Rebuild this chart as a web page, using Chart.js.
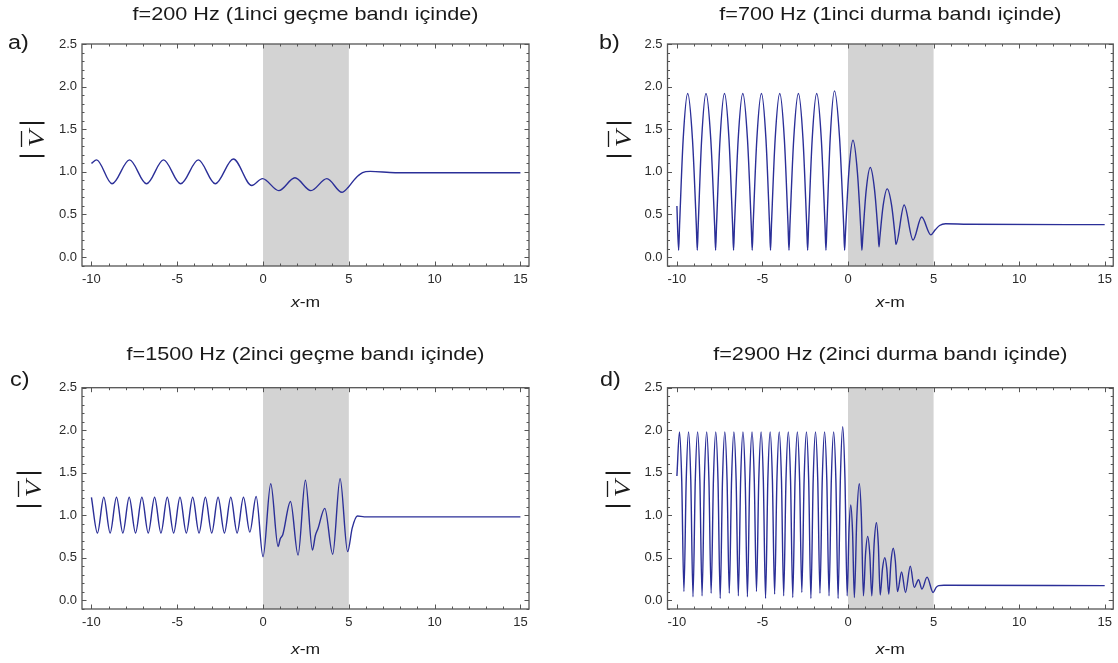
<!DOCTYPE html>
<html lang="tr">
  <head>
    <meta charset="UTF-8">
    <title>|V| dağılımı</title>
    <script src="https://cdn.jsdelivr.net/npm/chart.js"></script>
    <style>
      body {
        margin: 0;
        background: #fff;
        width: 1118px;
        height: 663px;
        position: relative;
        overflow: hidden
      }

      canvas {
        position: absolute
      }
    </style>
  </head>
  <body>
    <canvas id="ca" width="559" height="331" style="left:0;top:0"></canvas>
    <canvas id="cb" width="559" height="331" style="left:559px;top:0"></canvas>
    <canvas id="cc" width="559" height="332" style="left:0;top:331px"></canvas>
    <canvas id="cd" width="559" height="332" style="left:559px;top:331px"></canvas>
    <script>
      const xTicks = [-10, -5, 0, 5, 10, 15];
      const yTicks = [0, 0.5, 1, 1.5, 2, 2.5];
      const band = [0, 5];

      const titles = [
        'f=200 Hz (1inci geçme bandı içinde)',
        'f=700 Hz (1inci durma bandı içinde)',
        'f=1500 Hz (2inci geçme bandı içinde)',
        'f=2900 Hz (2inci durma bandı içinde)'
      ];
      const panelLabels = ['a)', 'b)', 'c)', 'd)'];

      // [x, |V|]
      const curveA = [[-10, 1.10], [-9.7, 1.14], [-8.8, 0.86], [-7.78, 1.14], [-6.79, 0.86], [-5.8, 1.14], [-4.8, 0.86],
        [-3.77, 1.14], [-2.78, 0.86], [-1.73, 1.15], [-0.66, 0.84], [-0.03, 0.92], [0.92, 0.78], [1.86, 0.93],
        [2.79, 0.78], [3.72, 0.92], [4.6, 0.76], [4.97, 0.82], [5.37, 0.92], [5.8, 0.99], [6.25, 1.005], [7.7, 0.99], [15, 0.99]];

      const curveB = [[-10, 0.60], [-9.90, 0.08],
        [-9.845, 0.37], [-9.635, 1.38], [-9.37, 1.92], [-9.09, 1.38], [-8.865, 0.37], [-8.81, 0.08],
        [-8.755, 0.37], [-8.555, 1.38], [-8.30, 1.92], [-8.02, 1.38], [-7.795, 0.37], [-7.74, 0.08],
        [-7.685, 0.37], [-7.48, 1.38], [-7.22, 1.92], [-6.955, 1.38], [-6.745, 0.37], [-6.69, 0.08],
        [-6.635, 0.37], [-6.42, 1.38], [-6.15, 1.92], [-5.875, 1.38], [-5.655, 0.37], [-5.60, 0.08],
        [-5.545, 0.37], [-5.33, 1.38], [-5.06, 1.92], [-4.795, 1.38], [-4.585, 0.37], [-4.53, 0.08],
        [-4.475, 0.37], [-4.26, 1.38], [-3.99, 1.92], [-3.72, 1.38], [-3.505, 0.37], [-3.45, 0.08],
        [-3.395, 0.37], [-3.175, 1.38], [-2.90, 1.92], [-2.63, 1.38], [-2.415, 0.37], [-2.36, 0.08],
        [-2.305, 0.37], [-2.095, 1.38], [-1.83, 1.92], [-1.56, 1.38], [-1.345, 0.37], [-1.29, 0.08],
        [-1.235, 0.37], [-1.04, 1.40], [-0.79, 1.95], [-0.495, 1.40], [-0.255, 0.37], [-0.20, 0.08],
        [-0.15, 0.28], [0.045, 0.99], [0.29, 1.37], [0.55, 0.99], [0.76, 0.28], [0.81, 0.08],
        [0.86, 0.23], [1.055, 0.77], [1.30, 1.05], [1.555, 0.78], [1.76, 0.27], [1.81, 0.12],
        [1.86, 0.23], [2.05, 0.60], [2.29, 0.80], [2.545, 0.61], [2.75, 0.25], [2.80, 0.15],
        [3.28, 0.61], [3.80, 0.20], [4.30, 0.47], [4.84, 0.26],
        [5.1, 0.32], [5.35, 0.37], [5.7, 0.39], [7, 0.385], [15, 0.38]];

      const curveC = [[-10, 1.21], [-9.65, 0.79], [-9.28, 1.21], [-8.91, 0.79], [-8.54, 1.21], [-8.17, 0.79],
        [-7.80, 1.21], [-7.43, 0.79], [-7.06, 1.21], [-6.69, 0.79], [-6.32, 1.21], [-5.95, 0.79], [-5.58, 1.21],
        [-5.21, 0.79], [-4.84, 1.21], [-4.47, 0.79], [-4.10, 1.21], [-3.73, 0.79], [-3.36, 1.21], [-2.99, 0.79],
        [-2.62, 1.21], [-2.25, 0.79], [-1.88, 1.21], [-1.51, 0.79], [-1.14, 1.21], [-0.77, 0.80], [-0.40, 1.22],
        [0.0, 0.51], [0.45, 1.37], [0.88, 0.63], [1.0, 0.72], [1.15, 0.77], [1.6, 1.16], [2.04, 0.53], [2.47, 1.41],
        [2.88, 0.59], [3.05, 0.76], [3.2, 0.84], [3.6, 1.08], [4.06, 0.54], [4.49, 1.43], [4.93, 0.57],
        [5.2, 0.85], [5.5, 0.99], [5.9, 0.98], [15, 0.98]];

      const curveD = [[-10, 1.46], [-9.85, 1.98], [-9.72, 1.42], [-9.59, 0.10], [-9.455, 1.42],
        [-9.32, 1.98], [-9.19, 1.42], [-9.06, 0.04], [-8.925, 1.42],
        [-8.79, 1.98], [-8.66, 1.42], [-8.53, 0.05], [-8.395, 1.42],
        [-8.26, 1.98], [-8.13, 1.42], [-8.00, 0.08], [-7.865, 1.42],
        [-7.73, 1.98], [-7.60, 1.42], [-7.47, 0.02], [-7.335, 1.42],
        [-7.20, 1.98], [-7.07, 1.42], [-6.94, 0.08], [-6.805, 1.42],
        [-6.67, 1.98], [-6.54, 1.42], [-6.41, 0.05], [-6.275, 1.42],
        [-6.14, 1.98], [-6.01, 1.42], [-5.88, 0.04], [-5.745, 1.42],
        [-5.61, 1.98], [-5.48, 1.42], [-5.35, 0.10], [-5.215, 1.42],
        [-5.08, 1.98], [-4.95, 1.42], [-4.82, 0.02], [-4.685, 1.42],
        [-4.55, 1.98], [-4.42, 1.42], [-4.29, 0.07], [-4.155, 1.42],
        [-4.02, 1.98], [-3.89, 1.42], [-3.76, 0.05], [-3.625, 1.42],
        [-3.49, 1.98], [-3.36, 1.42], [-3.23, 0.03], [-3.095, 1.42],
        [-2.96, 1.98], [-2.83, 1.42], [-2.70, 0.09], [-2.565, 1.42],
        [-2.43, 1.98], [-2.30, 1.42], [-2.17, 0.02], [-2.035, 1.42],
        [-1.90, 1.98], [-1.77, 1.42], [-1.64, 0.08], [-1.505, 1.42],
        [-1.37, 1.98], [-1.24, 1.42], [-1.11, 0.05], [-0.975, 1.42],
        [-0.84, 1.98], [-0.71, 1.42], [-0.58, 0.02], [-0.445, 1.44],
        [-0.31, 2.04], [-0.18, 1.44], [-0.05, 0.05],
        [0.055, 0.81], [0.16, 1.12], [0.265, 0.80], [0.37, 0.03], [0.515, 0.98], [0.66, 1.37], [0.78, 0.98],
        [0.90, 0.05], [1.025, 0.545], [1.15, 0.75], [1.27, 0.545], [1.39, 0.05], [1.525, 0.66], [1.66, 0.91],
        [1.77, 0.66], [1.88, 0.06], [2.015, 0.37], [2.15, 0.50], [2.265, 0.37], [2.38, 0.07], [2.51, 0.45],
        [2.64, 0.61], [2.765, 0.46], [2.89, 0.10], [3.13, 0.33], [3.36, 0.09], [3.64, 0.40], [3.87, 0.15],
        [4.12, 0.24], [4.32, 0.13], [4.62, 0.27], [4.97, 0.09], [5.15, 0.15], [5.3, 0.17], [5.6, 0.175], [15, 0.17]];

      const curves = [curveA, curveB, curveC, curveD];

      // where things sit inside each canvas
      const panels = [
        { id: 'ca', pad: { left: 42, right: 30, top: 44, bottom: 35 }, titleY: 15, lab: [8, 43], yLab: [32, 140], xLabY: 303 },
        { id: 'cb', pad: { left: 68.5, right: 4, top: 44, bottom: 35 }, titleY: 15, lab: [40, 43], yLab: [60, 140], xLabY: 303 },
        { id: 'cc', pad: { left: 42, right: 30, top: 56.7, bottom: 24 }, titleY: 24, lab: [10, 49], yLab: [29, 159], xLabY: 319 },
        { id: 'cd', pad: { left: 68.5, right: 4, top: 56.7, bottom: 24 }, titleY: 24, lab: [41, 49], yLab: [59, 159], xLabY: 319 }
      ];

      const sans = '"Liberation Sans", Arial, sans-serif';
      const serif = '"Liberation Serif", "Times New Roman", serif';
      const stretch = 1.17; // the figure's lettering is a little wider than Liberation Sans

      function wideText(ctx, text, x, y, font, align) {
        ctx.save();
        ctx.font = font;
        ctx.textBaseline = 'middle';
        ctx.textAlign = align;
        ctx.translate(x, y);
        ctx.scale(stretch, 1);
        ctx.fillText(text, 0, 0);
        ctx.restore();
      }

      function drawVLabel(ctx, cx, cy) {
        ctx.save();
        ctx.translate(cx, cy);
        ctx.rotate(-Math.PI / 2);
        ctx.strokeStyle = '#1a1a1a';
        ctx.fillStyle = '#1a1a1a';
        ctx.lineWidth = 2.2;
        ctx.beginPath();
        ctx.moveTo(-16, -12.5); ctx.lineTo(-16, 12.5);
        ctx.moveTo(17, -12.5); ctx.lineTo(17, 12.5);
        ctx.stroke();
        ctx.save();
        ctx.scale(1.15, 0.92);
        ctx.font = 'italic 24px ' + serif;
        ctx.textAlign = 'center';
        ctx.textBaseline = 'alphabetic';
        ctx.fillText('V', 1, 12.5);
        ctx.restore();
        ctx.lineWidth = 1.3;
        ctx.beginPath();
        ctx.moveTo(-7, -10.5); ctx.lineTo(9, -10.5);
        ctx.stroke();
        ctx.restore();
      }

      function drawXLabel(ctx, cx, cy) {
        ctx.save();
        ctx.fillStyle = '#1a1a1a';
        ctx.font = 'italic 15px ' + sans;
        const w1 = ctx.measureText('x').width * stretch;
        ctx.font = '15px ' + sans;
        const w2 = ctx.measureText('-m').width * stretch;
        const x0 = cx - (w1 + w2) / 2;
        wideText(ctx, 'x', x0, cy, 'italic 15px ' + sans, 'left');
        wideText(ctx, '-m', x0 + w1, cy, '15px ' + sans, 'left');
        ctx.restore();
      }

      const decor = {
        id: 'decor',
        beforeDatasetsDraw(chart) {
          const { ctx, chartArea: a, scales: { x } } = chart;
          const l = x.getPixelForValue(band[0]);
          const r = x.getPixelForValue(band[1]);
          ctx.save();
          ctx.fillStyle = '#d3d3d3';
          ctx.fillRect(l, a.top, r - l, a.bottom - a.top);
          ctx.restore();
        },
        afterDraw(chart, args, o) {
          const { ctx, chartArea: a, scales: { x, y } } = chart;
          ctx.save();
          ctx.strokeStyle = '#555';
          ctx.lineWidth = 1;
          ctx.beginPath();
          for (let v = -10; v <= 15; v++) {
            const px = Math.round(x.getPixelForValue(v)) + 0.5;
            const len = v % 5 === 0 ? 4.5 : 2.5;
            ctx.moveTo(px, a.bottom); ctx.lineTo(px, a.bottom - len);
            ctx.moveTo(px, a.top); ctx.lineTo(px, a.top + len);
          }
          for (let i = -1; i <= 25; i++) {
            const py = Math.round(y.getPixelForValue(i / 10)) + 0.5;
            const len = i % 5 === 0 ? 4.5 : 2.5;
            ctx.moveTo(a.left, py); ctx.lineTo(a.left + len, py);
            ctx.moveTo(a.right, py); ctx.lineTo(a.right - len, py);
          }
          ctx.stroke();
          ctx.lineWidth = 1.3;
          ctx.strokeRect(a.left, a.top, a.right - a.left, a.bottom - a.top);

          ctx.fillStyle = '#1a1a1a';
          wideText(ctx, o.title, (a.left + a.right) / 2, o.titleY, '18.5px ' + sans, 'center');
          wideText(ctx, o.label, o.lab[0], o.lab[1], '20px ' + sans, 'left');
          ctx.restore();
          drawVLabel(ctx, o.yLab[0], o.yLab[1]);
          drawXLabel(ctx, (a.left + a.right) / 2, o.xLabY);
        }
      };

      const tickFont = { family: sans, size: 13 };

      panels.forEach((p, i) => {
        new Chart(document.getElementById(p.id), {
          type: 'line',
          data: {
            datasets: [{
              data: curves[i].map(([x, y]) => ({ x, y })),
              borderColor: '#2b2f98',
              borderWidth: 1.4,
              pointRadius: 0,
              cubicInterpolationMode: 'monotone',
              fill: false
            }]
          },
          options: {
            responsive: false,
            animation: false,
            events: [],
            layout: { padding: p.pad },
            plugins: {
              legend: { display: false },
              tooltip: { enabled: false },
              decor: { title: titles[i], label: panelLabels[i], titleY: p.titleY, lab: p.lab, yLab: p.yLab, xLabY: p.xLabY }
            },
            scales: {
              x: {
                type: 'linear',
                min: -10.55,
                max: 15.5,
                grid: { display: false, drawTicks: false },
                border: { display: false },
                afterBuildTicks: s => { s.ticks = xTicks.map(v => ({ value: v })); },
                afterFit: s => { s.height = 30; },
                ticks: { padding: 6, color: '#2a2a2a', font: tickFont, maxRotation: 0, autoSkip: false, callback: v => String(v) }
              },
              y: {
                type: 'linear',
                min: -0.105,
                max: 2.5,
                grid: { display: false, drawTicks: false },
                border: { display: false },
                afterBuildTicks: s => { s.ticks = yTicks.map(v => ({ value: v })); },
                afterFit: s => { s.width = 40; },
                ticks: { padding: 5, color: '#2a2a2a', font: tickFont, autoSkip: false, callback: v => v.toFixed(1) }
              }
            }
          },
          plugins: [decor]
        });
      });
    </script>
  </body>
</html>
